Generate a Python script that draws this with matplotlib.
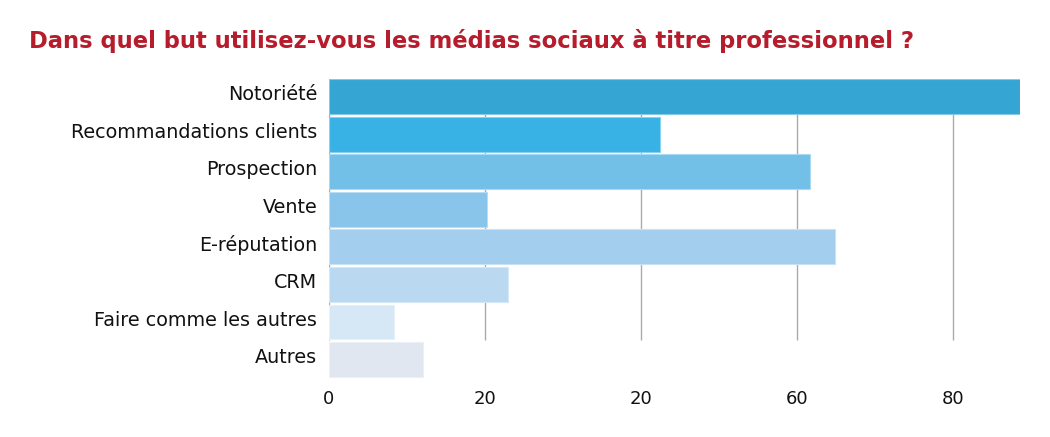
import matplotlib
matplotlib.use("Agg")
import matplotlib.pyplot as plt
import matplotlib.colors as mcolors
import matplotlib.transforms as mtransforms
import numpy as np

categories = ["Notoriété", "Recommandations clients", "Prospection", "Vente",
              "E-réputation", "CRM", "Faire comme les autres", "Autres"]
values = [88.6, 42.4, 61.7, 20.3, 64.9, 22.9, 8.3, 12.1]
colors = ["#35A5D4", "#38B2E5", "#72BFE8", "#89C5EA", "#A3CEEE", "#BAD9F0", "#D6E7F6", "#E0E7F1"]
xticks = [0, 20, 40, 60, 80]
xtick_labels = ["0", "20", "20", "60", "80"]
title = "Dans quel but utilisez-vous les médias sociaux à titre professionnel ?"

fig = plt.figure(figsize=(10.5, 4.37), dpi=100)
W, H = 1050, 437
ax = fig.add_axes([329 / W, 1 - 378 / H, (1020 - 329) / W, (378 - 79) / H])

y = np.arange(len(categories))
ax.set_xlim(0, 88.6)
ax.set_ylim(7.49, -0.47)

ax.vlines(xticks, -0.47, 6.48, colors="#ABABAB", linewidth=1.0, zorder=1)

for yi, v, c in zip(y, values, colors):
    edge = tuple(np.clip(np.array(mcolors.to_rgb(c)) * 0.6 + 0.4, 0, 1))
    ax.barh(yi, v, height=0.93, color=c, edgecolor=edge, linewidth=0.8, zorder=2)

for s in ax.spines.values():
    s.set_visible(False)

ax.set_yticks(y)
ax.set_yticklabels(categories, fontsize=13.8, color="#111111", family="DejaVu Sans")
ax.set_xticks(xticks)
ax.set_xticklabels(xtick_labels, fontsize=13, color="#111111")
ax.tick_params(axis="both", length=0)
ax.tick_params(axis="y", pad=8.5)
ax.tick_params(axis="x", pad=9)

offset = mtransforms.ScaledTranslation(0, 4 / 100, fig.dpi_scale_trans)
for lbl in ax.get_yticklabels():
    lbl.set_transform(lbl.get_transform() + offset)

fig.text(29 / W, 1 - 48 / H, title, fontsize=16.3, fontweight="bold", color="#B71C2C",
         family="DejaVu Sans", ha="left", va="baseline")

fig.savefig("out.png", dpi=100, facecolor="white")
